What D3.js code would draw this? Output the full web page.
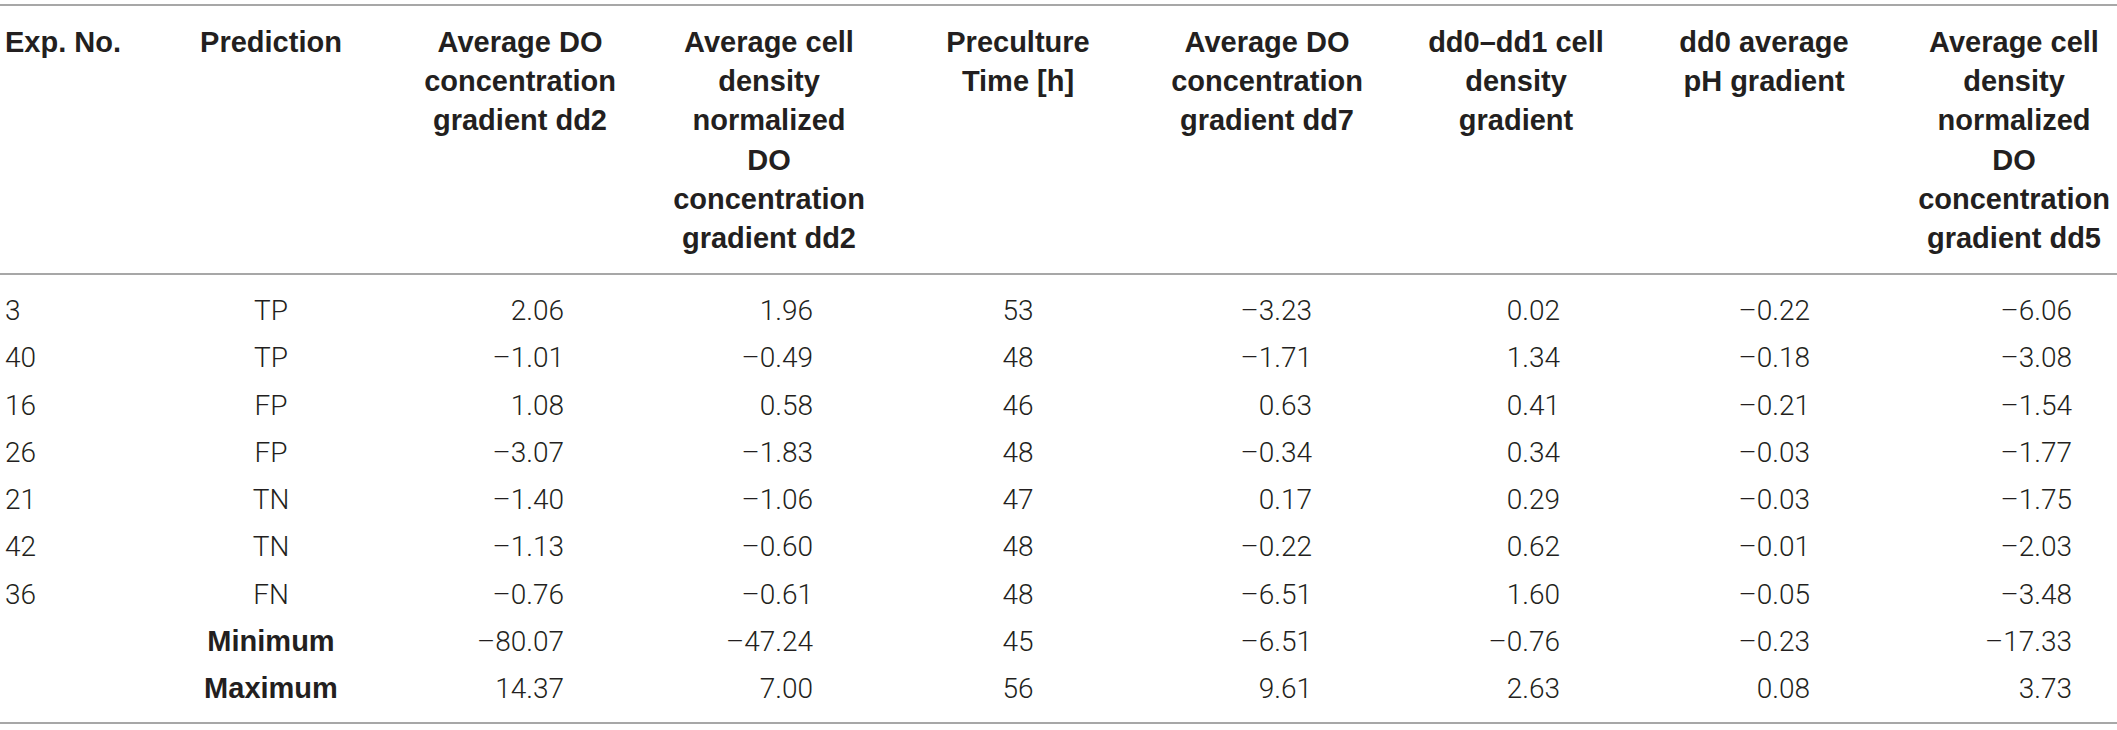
<!DOCTYPE html>
<html>
<head>
<meta charset="utf-8">
<script src="https://cdn.jsdelivr.net/npm/d3@7"></script>
<style>
  html, body { margin: 0; padding: 0; background: #fff; }
</style>
</head>
<body>
<div id="table"></div>
<script>
// table contents
const expNo = ["3", "40", "16", "26", "21", "42", "36", "", ""];
const prediction = ["TP", "TP", "FP", "FP", "TN", "TN", "FN", "Minimum", "Maximum"];
const doGradDd2 = [2.06, -1.01, 1.08, -3.07, -1.40, -1.13, -0.76, -80.07, 14.37];
const normDoGradDd2 = [1.96, -0.49, 0.58, -1.83, -1.06, -0.60, -0.61, -47.24, 7.00];
const precultureTime = [53, 48, 46, 48, 47, 48, 48, 45, 56];
const doGradDd7 = [-3.23, -1.71, 0.63, -0.34, 0.17, -0.22, -6.51, -6.51, 9.61];
const cellDensityGrad = [0.02, 1.34, 0.41, 0.34, 0.29, 0.62, 1.60, -0.76, 2.63];
const phGrad = [-0.22, -0.18, -0.21, -0.03, -0.03, -0.01, -0.05, -0.23, 0.08];
const normDoGradDd5 = [-6.06, -3.08, -1.54, -1.77, -1.75, -2.03, -3.48, -17.33, 3.73];

const headers = [
  ["Exp. No."],
  ["Prediction"],
  ["Average DO", "concentration", "gradient dd2"],
  ["Average cell", "density", "normalized", "DO", "concentration", "gradient dd2"],
  ["Preculture", "Time [h]"],
  ["Average DO", "concentration", "gradient dd7"],
  ["dd0\u2013dd1 cell", "density", "gradient"],
  ["dd0 average", "pH gradient"],
  ["Average cell", "density", "normalized", "DO", "concentration", "gradient dd5"]
];

const width = 2117;
const height = 730;

const dark = "#231f20";
const ruleColor = "#a7a7a7";

// the source typesets negatives with a long dash
const fmt2 = v => (v < 0 ? "\u2013" : "") + d3.format(".2f")(Math.abs(v));
const fmt0 = v => d3.format("d")(v);

// column layout: header anchor, value anchor
const columns = [
  { values: expNo, fmt: d => d, hx: 5, hAnchor: "start", vx: 5, vAnchor: "start" },
  { values: prediction, fmt: d => d, hx: 271, hAnchor: "middle", vx: 271, vAnchor: "middle" },
  { values: doGradDd2, fmt: fmt2, hx: 520, hAnchor: "middle", vx: 564, vAnchor: "end" },
  { values: normDoGradDd2, fmt: fmt2, hx: 769, hAnchor: "middle", vx: 813, vAnchor: "end" },
  { values: precultureTime, fmt: fmt0, hx: 1018, hAnchor: "middle", vx: 1018, vAnchor: "middle" },
  { values: doGradDd7, fmt: fmt2, hx: 1267, hAnchor: "middle", vx: 1312, vAnchor: "end" },
  { values: cellDensityGrad, fmt: fmt2, hx: 1516, hAnchor: "middle", vx: 1560, vAnchor: "end" },
  { values: phGrad, fmt: fmt2, hx: 1764, hAnchor: "middle", vx: 1810, vAnchor: "end" },
  { values: normDoGradDd5, fmt: fmt2, hx: 2014, hAnchor: "middle", vx: 2072, vAnchor: "end" }
];

const rowIdx = d3.range(expNo.length);
// baselines of the body rows
const y = d3.scalePoint()
  .domain(rowIdx)
  .range([320, 698]);

// baselines of header lines
const headerLine = d3.scaleLinear()
  .domain([0, 5])
  .range([52, 248]);

const svg = d3.create("svg")
  .attr("width", width)
  .attr("height", height)
  .attr("viewBox", [0, 0, width, height]);

// rules
[5, 274, 723].forEach(ry => {
  svg.append("line")
    .attr("x1", 0).attr("x2", width)
    .attr("y1", ry).attr("y2", ry)
    .attr("stroke", ruleColor)
    .attr("stroke-width", 2);
});

// header
const head = svg.append("g")
  .style("font-family", "'Liberation Sans', Arial, sans-serif")
  .style("font-weight", "bold")
  .style("font-size", "29px")
  .attr("fill", dark);

columns.forEach((c, i) => {
  head.append("g")
    .selectAll("text")
    .data(headers[i])
    .join("text")
      .attr("x", c.hx)
      .attr("y", (d, j) => headerLine(j))
      .attr("text-anchor", c.hAnchor)
      .text(d => d);
});

// body
const isBold = (i, j) => i === 1 && j >= 7;
const body = svg.append("g")
  .attr("fill", dark);

columns.forEach((c, i) => {
  body.append("g")
    .selectAll("text")
    .data(c.values)
    .join("text")
      .attr("x", c.vx)
      .attr("y", (d, j) => y(j))
      .attr("text-anchor", c.vAnchor)
      .style("font-family", (d, j) => isBold(i, j) ? "'Liberation Sans', Arial, sans-serif" : "Roboto, sans-serif")
      .style("font-weight", (d, j) => isBold(i, j) ? "bold" : 300)
      .style("font-size", (d, j) => isBold(i, j) ? "29px" : "28px")
      .text(d => c.fmt(d));
});

document.querySelector("#table").append(svg.node());
</script>
</body>
</html>
